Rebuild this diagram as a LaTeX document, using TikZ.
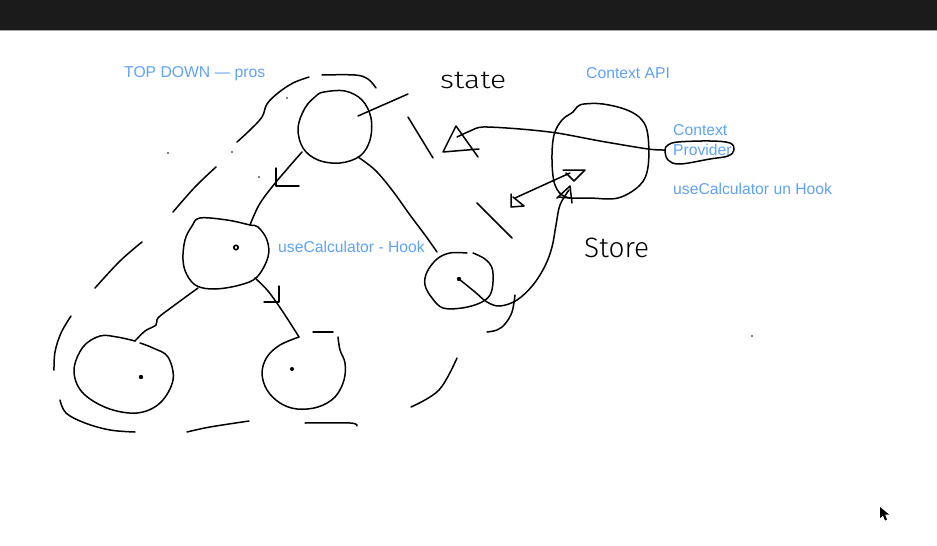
\documentclass[tikz,border=0pt]{standalone}
\usepackage{fontspec}
\setmainfont{Liberation Sans}
\newfontfamily\handfont{Fira Sans Light}
\definecolor{inkblue}{RGB}{96,163,245}
\definecolor{barfill}{RGB}{27,27,27}
\begin{document}
\begin{tikzpicture}[x=1pt,y=-1pt,
  ink/.style={line width=1.5pt,line cap=round,line join=round,black},
  label/.style={inkblue,font=\fontsize{15.7}{18}\selectfont,inner sep=0pt,anchor=base west},
  hand/.style={black,font=\handfont\fontsize{25}{26}\selectfont,inner sep=0pt,anchor=base west},
  dotmark/.style={fill=black}]
\useasboundingbox (0,0) rectangle (937,546);
\fill[white] (0,0) rectangle (937,546);
% top bar
\fill[barfill] (0,0) rectangle (937,30);
\draw[gray!70,line width=1pt] (0,30.5) -- (937,30.5);

% labels
\node[label] (ttop) at (124,77) {TOP DOWN — pros};
\node[label] (tctx) at (586,78) {Context API};
\node[label] (tprova) at (673,135) {Context};
\node[label] (tprovb) at (673,155) {Provider};
\node[label] (thookb) at (673,194) {useCalculator un Hook};
\node[label] (thooka) at (278,252) {useCalculator - Hook};
\node[hand,xscale=1.2] (tstate) at (440,88) {state};
\node[hand,font=\handfont\fontsize{28}{28}\selectfont] (tstore) at (584,257) {Store};

% tree of components
\draw[ink] plot[smooth cycle,tension=0.6] coordinates
  {(324,92) (345,91) (362,100) (371,118) (370,140) (360,156) (340,163) (318,160) (303,148) (298,128) (305,108) (316,96)};
\draw[ink] plot[smooth cycle,tension=0.6] coordinates
  {(200,218) (227,220) (250,225) (258,227) (267,240) (268,257) (257,277) (240,285) (215,289) (197,286) (187,275) (183,260) (185,240) (192,226)};
\draw[ink] plot[smooth,tension=0.6] coordinates
  {(140,343) (153,348) (168,357) (173,380) (160,403) (137,413) (107,408) (82,392) (74,370) (83,347) (100,336) (117,337) (135,341)};
\draw[ink] plot[smooth,tension=0.6] coordinates
  {(299,337) (280,345) (267,357) (262,373) (267,390) (280,403) (297,409) (318,407) (335,397) (344,380) (345,363) (340,350) (338,337)};
\draw[ink] (313,332) -- (333,332);
\draw[ink] plot[smooth,tension=0.6] coordinates
  {(467,253) (450,253) (437,259) (427,272) (425,285) (432,298) (443,308) (462,308) (480,303) (490,295) (493,282) (492,268) (485,259) (473,253)};

% centre dots
\draw[line width=1.6pt] (236,247.5) circle (2.2);
\fill[dotmark] (141,377) circle (2.2);
\fill[dotmark] (292,369) circle (2);
\fill[dotmark] (459,279) circle (2.2);
\coordinate (dsm) at (459,279);

% stray specks
\foreach \p in {(287,98),(168,153),(232,152),(259,177),(752,336)}
  \fill \p circle (0.9);

% tree edges
\draw[ink] plot[smooth,tension=0.6] coordinates {(302,152) (288,168) (272,187) (259,205) (250,225)};
\draw[ink] (276,168) -- (276,186) -- (299,186);
\draw[ink] plot[smooth,tension=0.6] coordinates {(358,157) (375,170) (392,190) (410,215) (425,235) (437,252)};
\draw[ink] (358,116) -- (408,94);
\draw[ink] plot[smooth,tension=0.6] coordinates {(198,288) (172,307) (158,318) (156,325) (145,331) (135,341)};
\draw[ink] plot[smooth,tension=0.6] coordinates {(255,278) (268,291) (283,312) (299,337)};
\draw[ink] (279,286) -- (279,302) -- (264,302);

% dashed hull around the tree
\draw[ink] plot[smooth,tension=0.6] coordinates {(322,75) (355,75) (368,79) (376,88)};
\draw[ink] plot[smooth,tension=0.6] coordinates {(309,77) (293,83) (278,93) (267,104) (262,117) (250,130) (237,142)};
\draw[ink] plot[smooth,tension=0.6] coordinates {(216,167) (195,187) (173,212)};
\draw[ink] plot[smooth,tension=0.6] coordinates {(142,242) (120,261) (95,288)};
\draw[ink] plot[smooth,tension=0.6] coordinates {(71,316) (61,333) (55,352) (54,370)};
\draw[ink] plot[smooth,tension=0.6] coordinates {(60,400) (66,413) (85,423) (110,430) (135,432)};
\draw[ink] plot[smooth,tension=0.6] coordinates {(187,432) (210,427) (249,421)};
\draw[ink] plot[smooth,tension=0.6] coordinates {(305,423) (350,423) (357,426)};
\draw[ink] plot[smooth,tension=0.6] coordinates {(411,407) (439,390) (457,358)};
\draw[ink] (408,117) -- (433,158);
\draw[ink] (477,203) -- (512,238);

% context provider blob and its ring
\draw[ink] plot[smooth cycle,tension=0.6] coordinates
  {(573,112) (577,107) (584,104) (603,104) (627,110) (642,120) (648,136) (648,167) (640,185) (618,198) (590,198) (566,197) (555,185) (552,160) (554,135) (562,120)};
\draw[ink] plot[smooth cycle,tension=0.6] coordinates
  {(665,150) (668,145) (678,142) (710,141) (730,143) (734,150) (728,156) (710,159) (680,164) (668,160)};

% provider to state
\draw[ink] plot[smooth,tension=0.5] coordinates {(665,150) (648,149) (600,141) (557,133) (520,129) (483,127) (470,131) (457,137)};
\draw[ink] (478,157) -- (456,126) -- (443,152) -- (479,149);

% store to context
\draw[ink] plot[smooth,tension=0.6] coordinates {(dsm) (475,292) (487,302) (500,306) (517,300) (533,285) (545,266) (552,247) (556,225) (560,205) (569,190)};
\draw[ink] (557,198) -- (570,186) -- (572,203);
\draw[ink] (558,197) -- (570,198);
\draw[ink] plot[smooth,tension=0.6] coordinates {(515,295) (512,312) (505,324) (497,330) (487,332)};

% two-way link inside the blob
\draw[ink] (515,198) -- (570,173);
\draw[ink] (511,194) -- (511,207) -- (524,206) -- (513,197);
\draw[ink] (563,170) -- (585,170) -- (574,181) -- (566,173);

% pointer
\fill[black] (880,507) -- (880,518) -- (883,515.5) -- (885,520.5) -- (887,519.5) -- (885,514.5) -- (889,514.5) -- cycle;
\end{tikzpicture}
\end{document}
